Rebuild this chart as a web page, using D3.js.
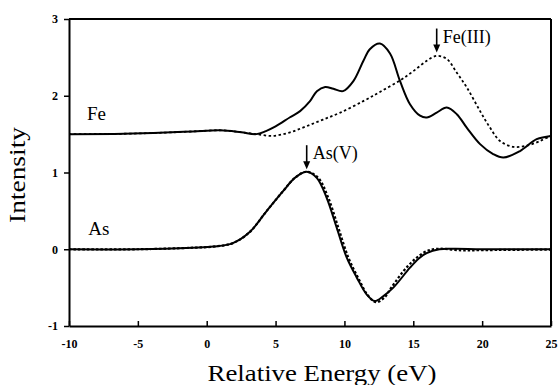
<!DOCTYPE html>
<html lang="en">
<head>
  <meta charset="utf-8" />
  <title>Relative Energy spectra</title>
  <script src="https://d3js.org/d3.v7.min.js"></script>
  <style>
    body { margin: 0; background: #fff; }
    svg, svg text { font-family: "Liberation Serif", "Times New Roman", Times, serif; }
    .tick text { font-size: 12px; font-weight: bold; }
  </style>
</head>
<body>
<div id="chart"></div>

<script>
    // Fe edge, solid (measured) and dotted (Fe(III) reference)
    var feSolidE = [-10, -6, -3, -1, 1, 2.5, 3.6, 4.3, 5, 6.05, 6.78, 7.5, 8, 8.6, 9.2, 9.9, 10.65, 11.38, 11.86, 12.58, 13.31, 14.04, 14.76, 15.49, 15.98, 16.7, 17.43, 18.16, 18.88, 19.85, 20.8, 21.54, 22.75, 23.96, 25];
    var feSolidI = [1.5, 1.505, 1.52, 1.535, 1.55, 1.525, 1.5, 1.54, 1.6, 1.72, 1.8, 1.93, 2.06, 2.115, 2.09, 2.06, 2.19, 2.455, 2.61, 2.68, 2.55, 2.19, 1.89, 1.74, 1.716, 1.78, 1.846, 1.76, 1.585, 1.37, 1.24, 1.194, 1.28, 1.434, 1.477];
    var feDotE = [-10, -6, -3, -1, 1, 2.5, 3.6, 4.8, 6, 7.2, 8.45, 9.7, 11.37, 12.58, 14.04, 15, 15.98, 16.7, 17.43, 18.16, 18.88, 19.85, 20.57, 21.3, 22.27, 23.24, 24.2, 25];
    var feDotI = [1.5, 1.505, 1.52, 1.535, 1.55, 1.525, 1.5, 1.477, 1.52, 1.6, 1.69, 1.78, 1.93, 2.05, 2.2, 2.32, 2.455, 2.52, 2.48, 2.3, 2.11, 1.8, 1.585, 1.41, 1.334, 1.35, 1.41, 1.48];

    // As edge, solid and dotted (As(V) reference)
    var asSolidE = [-10, -5, -1, 0.5, 1.9, 3.1, 4.36, 5.56, 6.4, 7.26, 7.99, 8.71, 9.44, 10.17, 10.9, 11.62, 12.2, 12.83, 13.55, 14.76, 15.4, 15.97, 16.9, 18, 20, 25];
    var asSolidI = [0, 0, 0.02, 0.035, 0.08, 0.22, 0.5, 0.76, 0.93, 1.01, 0.93, 0.67, 0.28, -0.11, -0.37, -0.59, -0.675, -0.61, -0.5, -0.24, -0.12, -0.05, 0, 0.005, 0, 0];
    var asDotE = [-10, -5, -1, 0.5, 1.9, 3.1, 4.36, 5.56, 6.4, 7.26, 8.1, 8.83, 9.56, 10.29, 11.02, 11.7, 12.3, 12.9, 13.4, 14.6, 15.8, 16.7, 18.5, 20, 22, 25];
    var asDotI = [0, 0, 0.02, 0.035, 0.08, 0.22, 0.5, 0.76, 0.93, 1.01, 0.93, 0.67, 0.28, -0.11, -0.38, -0.6, -0.69, -0.63, -0.5, -0.22, -0.04, 0.005, -0.015, -0.012, -0.008, -0.005];

    var xTicks = [-10, -5, 0, 5, 10, 15, 20, 25];
    var yTicks = [-1, 0, 1, 2, 3];

    // labels and arrows: [text, energy, intensity]
    var seriesLabels = [["Fe", -8.7, 1.68], ["As", -8.6, 0.18]];
    var arrowLabels = [["As(V)", 7.26, 1.03], ["Fe(III)", 16.7, 2.55]];

    var W = 559, H = 385;
    var margin = {top: 19, right: 8, bottom: 59, left: 69};
    var w = W - margin.left - margin.right, h = H - margin.top - margin.bottom;

    var svg = d3.select("#chart").append("svg").attr("width", W).attr("height", H);
    var g = svg.append("g").attr("transform", "translate(" + margin.left + "," + margin.top + ")");

    var x = d3.scaleLinear().domain([-10, 25]).range([0, w]);
    var y = d3.scaleLinear().domain([-1, 3]).range([h, 0]);

    // frame top and right
    g.append("line").attr("x1", 0).attr("x2", w).attr("y1", 0).attr("y2", 0).attr("stroke", "#000").attr("stroke-width", 2);
    g.append("line").attr("x1", w).attr("x2", w).attr("y1", 0).attr("y2", h).attr("stroke", "#000").attr("stroke-width", 2);

    var fmt = function(d) { return String(d); }; // plain hyphen minus like the original
    var xAxis = g.append("g").attr("transform", "translate(0," + h + ")")
        .call(d3.axisBottom(x).tickValues(xTicks).tickSizeInner(-5).tickSizeOuter(0).tickPadding(13).tickFormat(fmt));
    var yAxis = g.append("g")
        .call(d3.axisLeft(y).tickValues(yTicks).tickSizeInner(5).tickSizeOuter(0).tickPadding(6).tickFormat(fmt));
    [xAxis, yAxis].forEach(function(a) {
        a.attr("font-family", null).attr("font-size", null);
        a.select(".domain").attr("stroke-width", 2);
        a.selectAll(".tick line").attr("stroke-width", 1.5);
        a.selectAll(".tick text").attr("fill", "#000");
    });

    var line = d3.line()
        .x(function(d) { return x(d[0]); })
        .y(function(d) { return y(d[1]); })
        .curve(d3.curveCatmullRom.alpha(0.5));

    function pairs(e, v) { return e.map(function(d, i) { return [d, v[i]]; }); }

    g.append("path").attr("d", line(pairs(feDotE, feDotI))).attr("fill", "none")
        .attr("stroke", "#000").attr("stroke-width", 1.8).attr("stroke-dasharray", "2.5,2.5");
    g.append("path").attr("d", line(pairs(asDotE, asDotI))).attr("fill", "none")
        .attr("stroke", "#000").attr("stroke-width", 2.2).attr("stroke-dasharray", "2.5,2");
    g.append("path").attr("d", line(pairs(feSolidE, feSolidI))).attr("fill", "none")
        .attr("stroke", "#000").attr("stroke-width", 2);
    g.append("path").attr("d", line(pairs(asSolidE, asSolidI))).attr("fill", "none")
        .attr("stroke", "#000").attr("stroke-width", 2);

    g.selectAll(".slabel").data(seriesLabels).enter().append("text")
        .attr("x", function(d) { return x(d[1]); })
        .attr("y", function(d) { return y(d[2]); })
        .attr("font-size", 19).text(function(d) { return d[0]; });

    // arrows pointing down at the peaks
    arrowLabels.forEach(function(d) {
        var ax = x(d[1]), tip = y(d[2]) - 1;
        g.append("line").attr("x1", ax).attr("x2", ax).attr("y1", tip - 24).attr("y2", tip - 6)
            .attr("stroke", "#000").attr("stroke-width", 1.6);
        g.append("path").attr("d", "M" + (ax - 3.5) + "," + (tip - 8) + "L" + (ax + 3.5) + "," + (tip - 8) + "L" + ax + "," + tip + "Z")
            .attr("fill", "#000");
        g.append("text").attr("x", ax + 6).attr("y", tip - 10).attr("font-size", 18).text(d[0]);
    });

    svg.append("text").attr("x", 322).attr("y", 381).attr("text-anchor", "middle")
        .attr("font-size", 23).attr("textLength", 229).attr("lengthAdjust", "spacingAndGlyphs")
        .text("Relative Energy (eV)");
    svg.append("text").attr("transform", "translate(25,175) rotate(-90)").attr("text-anchor", "middle")
        .attr("font-size", 23).attr("textLength", 96).attr("lengthAdjust", "spacingAndGlyphs")
        .text("Intensity");
</script>
</body>
</html>
